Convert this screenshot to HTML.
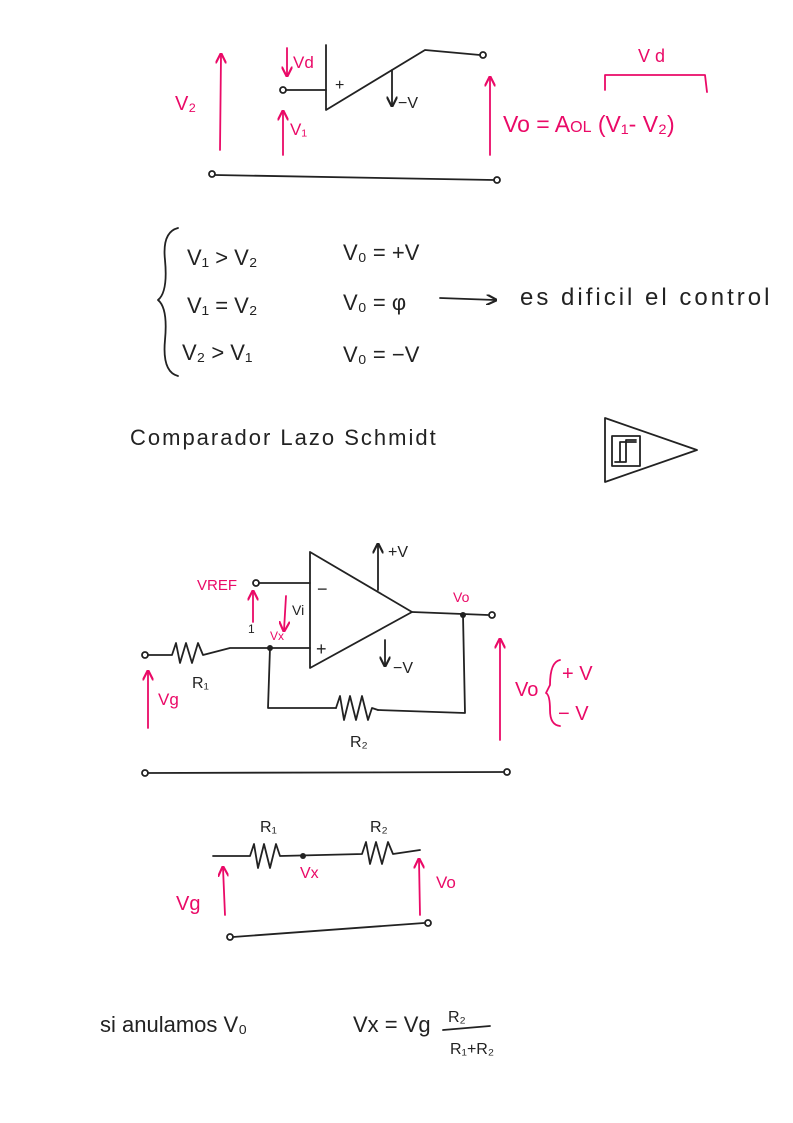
<!DOCTYPE html>
<html><head><meta charset="utf-8"><style>
html,body{margin:0;padding:0;background:#fff}
svg{display:block}
text{font-family:"Liberation Sans",sans-serif}
.k{stroke:#222;stroke-width:1.8;fill:none;stroke-linecap:round;stroke-linejoin:round}
.p{stroke:#ea0a67;stroke-width:1.8;fill:none;stroke-linecap:round;stroke-linejoin:round}
.tk{fill:#222}
.tp{fill:#ea0a67}
</style></head><body>
<svg width="793" height="1123" viewBox="0 0 793 1123" xmlns="http://www.w3.org/2000/svg">
<defs>
<marker id="ap" viewBox="0 0 10 10" refX="8" refY="5" markerWidth="6" markerHeight="6" orient="auto"><path d="M0,0L10,5L0,10" fill="none" stroke="#ea0a67" stroke-width="2"/></marker>
<marker id="ak" viewBox="0 0 10 10" refX="8" refY="5" markerWidth="6" markerHeight="6" orient="auto"><path d="M0,0L10,5L0,10" fill="none" stroke="#222" stroke-width="2"/></marker>
</defs>
<line class="p" x1="220" y1="150" x2="221" y2="55" marker-end="url(#ap)"/>
<text x="175" y="110" class="tp" font-size="20">V₂</text>
<path class="k" d="M326 45 L326 110 L425 50 L480 55"/>
<circle class="k" cx="483" cy="55" r="3"/>
<text x="335" y="90" class="tk" font-size="16">+</text>
<circle class="k" cx="283" cy="90" r="3"/>
<line class="k" x1="286" y1="90" x2="326" y2="90"/>
<line class="p" x1="287" y1="48" x2="287" y2="75" marker-end="url(#ap)"/>
<text x="293" y="68" class="tp" font-size="17">Vd</text>
<line class="p" x1="283" y1="155" x2="283" y2="112" marker-end="url(#ap)"/>
<text x="290" y="135" class="tp" font-size="17">V₁</text>
<line class="k" x1="392" y1="70" x2="392" y2="105" marker-end="url(#ak)"/>
<text x="398" y="108" class="tk" font-size="16">−V</text>
<line class="p" x1="490" y1="155" x2="490" y2="78" marker-end="url(#ap)"/>
<text x="503" y="132" class="tp" font-size="23">Vo = A<tspan font-size="16">OL</tspan> (V₁- V₂)</text>
<path class="p" d="M605 90 L605 75 L705 75 L707 92"/>
<text x="638" y="62" class="tp" font-size="18">V d</text>
<circle class="k" cx="212" cy="174" r="3"/>
<line class="k" x1="215" y1="175" x2="494" y2="180"/>
<circle class="k" cx="497" cy="180" r="3"/>
<path class="k" d="M178 228 Q162 232 165 260 Q168 292 158 300 Q168 308 165 340 Q162 372 178 376"/>
<g class="tk" font-size="22">
<text x="187" y="265">V₁ &gt; V₂</text>
<text x="343" y="260">V₀ = +V</text>
<text x="187" y="313">V₁ = V₂</text>
<text x="343" y="310">V₀ = φ</text>
<text x="520" y="305" font-size="24" letter-spacing="3">es dificil  el  control</text>
<text x="182" y="360">V₂ &gt; V₁</text>
<text x="343" y="362">V₀ = −V</text>
<text x="130" y="445" letter-spacing="2">Comparador   Lazo   Schmidt</text>
</g>
<line class="k" x1="440" y1="298" x2="495" y2="300" marker-end="url(#ak)"/>
<path class="k" d="M605 418 L605 482 L697 450 Z"/>
<rect class="k" x="612" y="436" width="28" height="30"/>
<path class="k" d="M615 462 L626 462 L626 440 L636 440 M620 462 L620 442 L636 442"/>
<path class="k" d="M310 552 L310 668 L412 612 Z"/>
<text x="317" y="595" class="tk" font-size="18">−</text>
<text x="316" y="655" class="tk" font-size="18">+</text>
<line class="k" x1="378" y1="590" x2="378" y2="545" marker-end="url(#ak)"/>
<text x="388" y="557" class="tk" font-size="16">+V</text>
<line class="k" x1="385" y1="640" x2="385" y2="665" marker-end="url(#ak)"/>
<text x="393" y="673" class="tk" font-size="16">−V</text>
<line class="k" x1="412" y1="612" x2="488" y2="615"/>
<circle class="k" cx="492" cy="615" r="3"/>
<text x="453" y="602" class="tp" font-size="14">Vo</text>
<circle cx="463" cy="615" r="3" fill="#222"/>
<path class="k" d="M463 615 L465 713 L378 710 M336 708 L268 708 L270 648"/>
<path class="k" d="M336 708 L340 696 L344 720 L350 696 L356 720 L362 696 L368 720 L372 708 L378 710"/>
<text x="350" y="747" class="tk" font-size="16">R₂</text>
<circle class="k" cx="256" cy="583" r="3"/>
<line class="k" x1="259" y1="583" x2="310" y2="583"/>
<text x="197" y="590" class="tp" font-size="15">VREF</text>
<line class="p" x1="253" y1="622" x2="253" y2="592" marker-end="url(#ap)"/>
<text x="248" y="633" class="tk" font-size="12">1</text>
<line class="p" x1="286" y1="596" x2="284" y2="630" marker-end="url(#ap)"/>
<text x="292" y="615" class="tk" font-size="14">Vi</text>
<text x="270" y="640" class="tp" font-size="12">Vx</text>
<circle class="k" cx="145" cy="655" r="3"/>
<path class="k" d="M148 655 L172 655 L176 643 L180 663 L186 643 L192 663 L198 643 L203 655 L230 648 L310 648"/>
<circle cx="270" cy="648" r="3" fill="#222"/>
<text x="192" y="688" class="tk" font-size="16">R₁</text>
<line class="p" x1="148" y1="728" x2="148" y2="672" marker-end="url(#ap)"/>
<text x="158" y="705" class="tp" font-size="17">Vg</text>
<line class="p" x1="500" y1="740" x2="500" y2="640" marker-end="url(#ap)"/>
<text x="515" y="696" class="tp" font-size="20">Vo</text>
<path class="p" d="M560 660 Q550 662 550 685 Q546 693 546 693 Q550 695 550 710 Q550 725 560 726"/>
<text x="562" y="680" class="tp" font-size="20">+ V</text>
<text x="558" y="720" class="tp" font-size="20">− V</text>
<circle class="k" cx="145" cy="773" r="3"/>
<line class="k" x1="148" y1="773" x2="503" y2="772"/>
<circle class="k" cx="507" cy="772" r="3"/>
<path class="k" d="M213 856 L250 856 L254 844 L258 868 L264 844 L270 868 L276 844 L280 856 L362 854 L366 842 L370 864 L376 842 L382 864 L388 842 L393 854 L420 850"/>
<circle cx="303" cy="856" r="3" fill="#222"/>
<text x="260" y="832" class="tk" font-size="16">R₁</text>
<text x="370" y="832" class="tk" font-size="16">R₂</text>
<text x="300" y="878" class="tp" font-size="16">Vx</text>
<line class="p" x1="225" y1="915" x2="223" y2="868" marker-end="url(#ap)"/>
<text x="176" y="910" class="tp" font-size="20">Vg</text>
<line class="p" x1="420" y1="915" x2="419" y2="860" marker-end="url(#ap)"/>
<text x="436" y="888" class="tp" font-size="17">Vo</text>
<circle class="k" cx="230" cy="937" r="3"/>
<line class="k" x1="233" y1="937" x2="424" y2="923"/>
<circle class="k" cx="428" cy="923" r="3"/>
<g class="tk">
<text x="100" y="1032" font-size="22">si anulamos  V₀</text>
<text x="353" y="1032" font-size="22">Vx = Vg</text>
<text x="448" y="1022" font-size="16">R₂</text>
<text x="450" y="1054" font-size="16">R₁+R₂</text>
</g>
<line class="k" x1="443" y1="1030" x2="490" y2="1026"/>
</svg>
</body></html>
